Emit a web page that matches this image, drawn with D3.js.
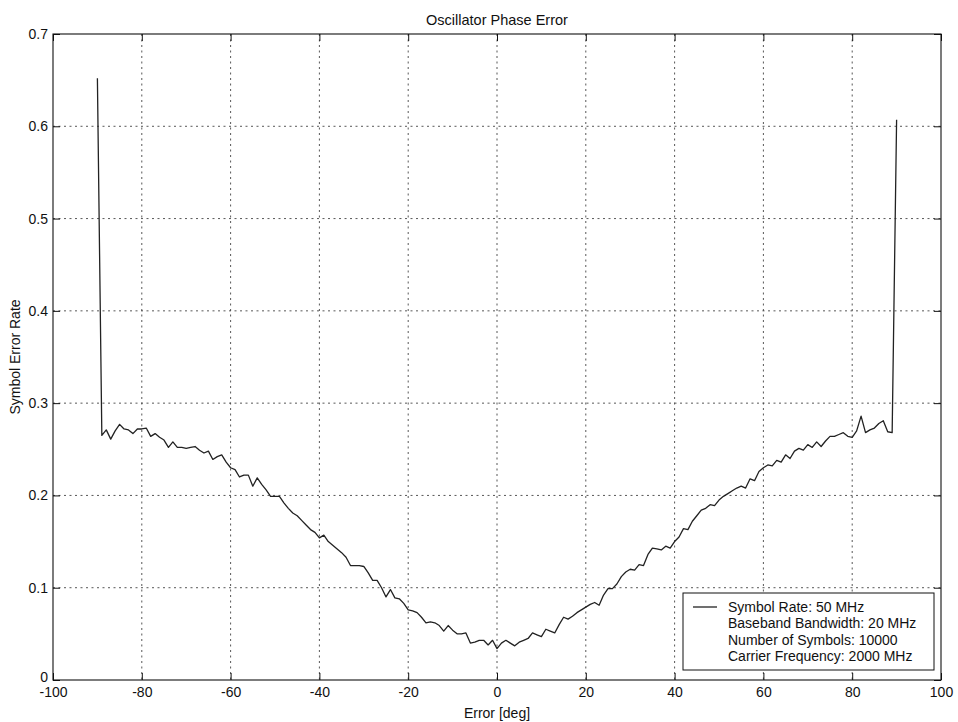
<!DOCTYPE html>
<html>
<head>
<meta charset="utf-8">
<script src="https://cdn.jsdelivr.net/npm/d3@7"></script>
<style>
  html, body { margin: 0; padding: 0; background: #fff; }
  svg { display: block; }
  text { font-family: "Liberation Sans", Arial, sans-serif; fill: #111; }
</style>
</head>
<body>
<svg id="chart" width="958" height="722"></svg>
<script>
// Phase error sweep, degrees
const phaseDeg = d3.range(-90, 91, 1);

// Symbol error rate at each phase error
const symbolErrorRate = [
  0.652, 0.265, 0.271, 0.261, 0.270, 0.277, 0.272, 0.271, 0.267, 0.272,
  0.272, 0.273, 0.264, 0.267, 0.263, 0.260, 0.252, 0.258, 0.252, 0.252,
  0.251, 0.252, 0.253, 0.249, 0.246, 0.248, 0.239, 0.242, 0.244, 0.236,
  0.230, 0.228, 0.220, 0.222, 0.222, 0.210, 0.219, 0.212, 0.206, 0.199,
  0.199, 0.199, 0.192, 0.186, 0.181, 0.178, 0.173, 0.168, 0.163, 0.160,
  0.154, 0.157, 0.150, 0.146, 0.142, 0.138, 0.133, 0.124, 0.124, 0.124,
  0.123, 0.116, 0.108, 0.108, 0.100, 0.090, 0.098, 0.089, 0.088, 0.083,
  0.076, 0.075, 0.073, 0.068, 0.062, 0.063, 0.062, 0.059, 0.053, 0.059,
  0.054, 0.050, 0.050, 0.051, 0.040, 0.041, 0.043, 0.043, 0.038, 0.043,
  0.034, 0.040, 0.043, 0.040, 0.037, 0.041, 0.043, 0.045, 0.051, 0.049,
  0.047, 0.055, 0.053, 0.051, 0.060, 0.068, 0.066, 0.069, 0.073, 0.076,
  0.079, 0.082, 0.084, 0.081, 0.092, 0.099, 0.099, 0.104, 0.112, 0.117,
  0.120, 0.119, 0.125, 0.124, 0.136, 0.143, 0.142, 0.141, 0.145, 0.143,
  0.150, 0.155, 0.164, 0.163, 0.172, 0.178, 0.184, 0.186, 0.190, 0.189,
  0.195, 0.199, 0.202, 0.205, 0.208, 0.210, 0.208, 0.218, 0.216, 0.226,
  0.230, 0.233, 0.232, 0.238, 0.236, 0.244, 0.240, 0.248, 0.251, 0.249,
  0.255, 0.252, 0.258, 0.253, 0.259, 0.264, 0.264, 0.266, 0.268, 0.264,
  0.263, 0.270, 0.286, 0.268, 0.271, 0.273, 0.278, 0.281, 0.269, 0.268,
  0.607
];

const xTicks = [-100, -80, -60, -40, -20, 0, 20, 40, 60, 80, 100];
const yTicks = [0, 0.1, 0.2, 0.3, 0.4, 0.5, 0.6, 0.7];

const legendLines = [
  "Symbol Rate: 50 MHz",
  "Baseband Bandwidth: 20 MHz",
  "Number of Symbols: 10000",
  "Carrier Frequency: 2000 MHz"
];

const W = 958, H = 722;
const margin = { top: 34, right: 17, bottom: 42, left: 53 };
const iw = W - margin.left - margin.right;
const ih = H - margin.top - margin.bottom;

const svg = d3.select("#chart");
const g = svg.append("g").attr("transform", `translate(${margin.left},${margin.top})`);

const x = d3.scaleLinear().domain([-100, 100]).range([0, iw]);
const y = d3.scaleLinear().domain([0, 0.7]).range([ih, 0]);

const tickLen = 7;
// plain hyphen-minus for negative tick labels
const fmtX = d => String(d);
const fmtY = d => d === 0 ? "0" : d.toFixed(1);

// dotted grid
g.append("g").selectAll("line")
  .data(xTicks.slice(1, -1)).join("line")
  .attr("x1", d => x(d)).attr("x2", d => x(d))
  .attr("y1", 0).attr("y2", ih)
  .attr("stroke", "#444").attr("stroke-width", 0.9)
  .attr("stroke-dasharray", "2,3.5");
g.append("g").selectAll("line")
  .data(yTicks.slice(1, -1)).join("line")
  .attr("x1", 0).attr("x2", iw)
  .attr("y1", d => y(d)).attr("y2", d => y(d))
  .attr("stroke", "#444").attr("stroke-width", 0.9)
  .attr("stroke-dasharray", "2,3.5");

// axes with inward ticks on all four sides
const axStyle = sel => {
  sel.select(".domain").remove();
  sel.selectAll(".tick line").attr("stroke", "#111").attr("stroke-width", 1);
  sel.selectAll(".tick text").style("font-size", "14px")
    .style("font-family", "'Liberation Sans', Arial, sans-serif").attr("fill", "#111");
};

g.append("g").attr("transform", `translate(0,${ih})`)
  .call(d3.axisBottom(x).tickValues(xTicks).tickSizeInner(-tickLen).tickSizeOuter(0).tickPadding(7).tickFormat(fmtX))
  .call(axStyle);
g.append("g")
  .call(d3.axisTop(x).tickValues(xTicks).tickSizeInner(-tickLen).tickSizeOuter(0).tickFormat(""))
  .call(axStyle);
const yAx = g.append("g")
  .call(d3.axisLeft(y).tickValues(yTicks).tickSizeInner(-tickLen).tickSizeOuter(0).tickPadding(5).tickFormat(fmtY))
  .call(axStyle);
// the "0" label sits just above the x-axis "-100"
yAx.selectAll(".tick text").filter(d => d === 0).attr("dy", "0.1em");
g.append("g").attr("transform", `translate(${iw},0)`)
  .call(d3.axisRight(y).tickValues(yTicks).tickSizeInner(-tickLen).tickSizeOuter(0).tickFormat(""))
  .call(axStyle);

// plot box
g.append("rect").attr("x", 0).attr("y", 0).attr("width", iw).attr("height", ih)
  .attr("fill", "none").attr("stroke", "#111").attr("stroke-width", 1.1);

// error-rate curve
const pts = phaseDeg.map((d, i) => [d, symbolErrorRate[i]]);
g.append("path")
  .datum(pts)
  .attr("fill", "none")
  .attr("stroke", "#222")
  .attr("stroke-width", 1.3)
  .attr("stroke-linejoin", "round")
  .attr("d", d3.line().x(d => x(d[0])).y(d => y(d[1])));

// title and axis labels
svg.append("text")
  .attr("x", margin.left + iw / 2).attr("y", 25)
  .attr("text-anchor", "middle").style("font-size", "14.5px")
  .text("Oscillator Phase Error");
svg.append("text")
  .attr("x", margin.left + iw / 2).attr("y", 718)
  .attr("text-anchor", "middle").style("font-size", "14px")
  .text("Error [deg]");
svg.append("text")
  .attr("transform", `translate(20,${margin.top + ih / 2}) rotate(-90)`)
  .attr("text-anchor", "middle").style("font-size", "14px")
  .text("Symbol Error Rate");

// legend, anchored to the lower-right corner of the axes
const lw = 251, lh = 77, rowH = 16.3;
const lg = g.append("g").attr("transform", `translate(${iw - 7 - lw},${ih - 10 - lh})`);
lg.append("rect").attr("width", lw).attr("height", lh)
  .attr("fill", "#fff").attr("stroke", "#111").attr("stroke-width", 1);
lg.append("line").attr("x1", 10).attr("x2", 34).attr("y1", 14).attr("y2", 14)
  .attr("stroke", "#222").attr("stroke-width", 1.3);
lg.selectAll("text").data(legendLines).join("text")
  .attr("x", 45).attr("y", (d, i) => 14 + i * rowH)
  .attr("dy", "0.35em").style("font-size", "14px")
  .text(d => d);
</script>
</body>
</html>
